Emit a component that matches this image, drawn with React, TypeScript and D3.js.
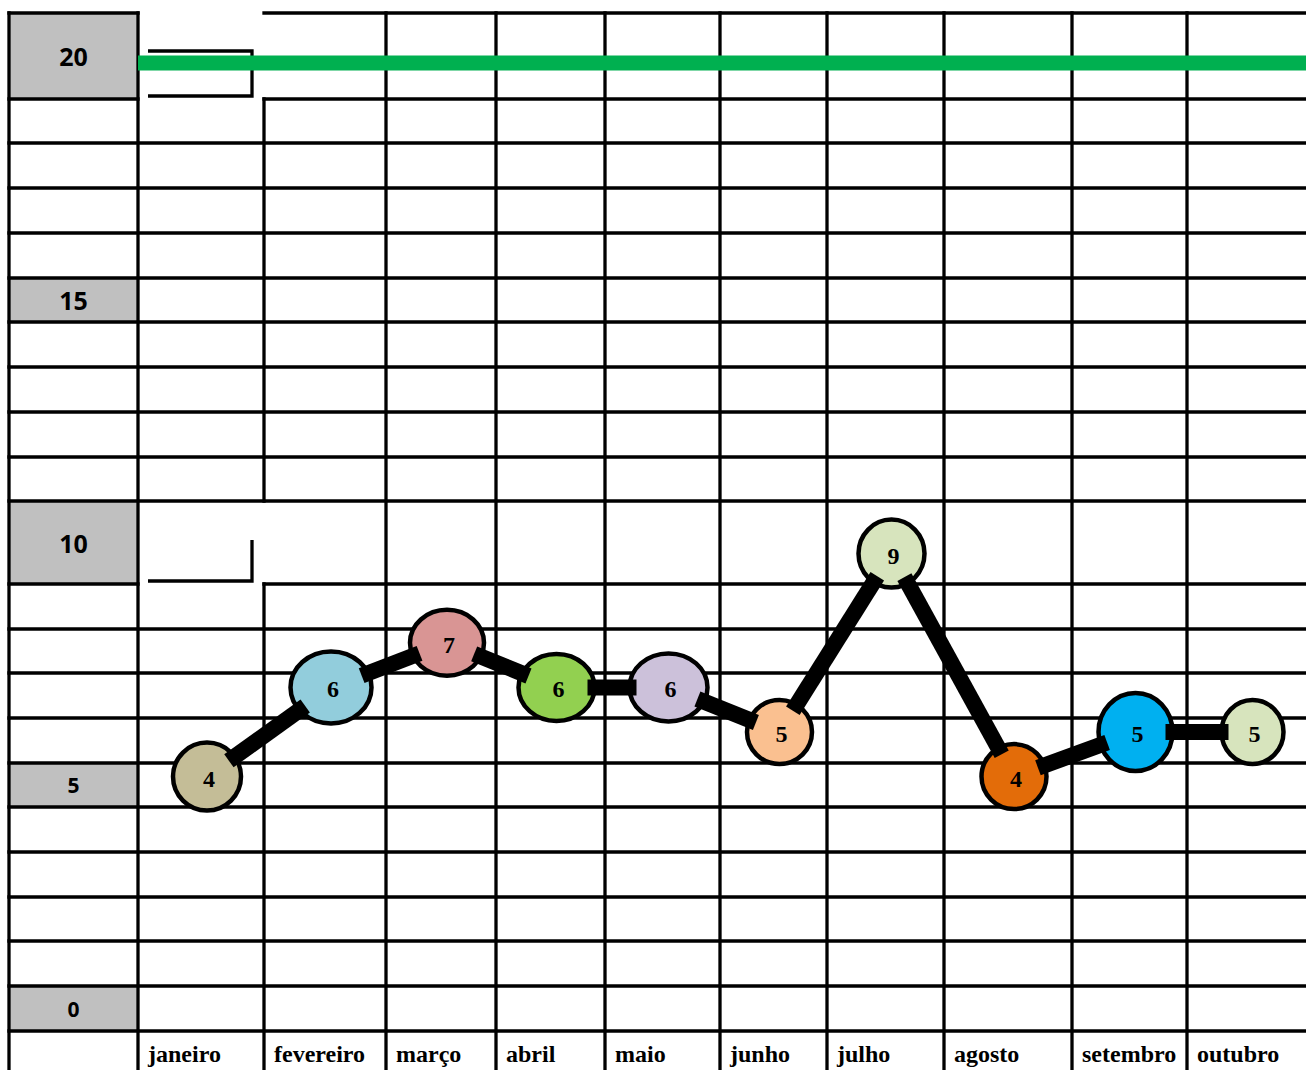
import React from 'react';
import * as d3 from 'd3';

// Monthly values and labels
const months = ['janeiro', 'fevereiro', 'março', 'abril', 'maio', 'junho', 'julho', 'agosto', 'setembro', 'outubro'];
const values = [4, 6, 7, 6, 6, 5, 9, 4, 5, 5];
const yTickLabels = ['20', '15', '10', '5', '0'];
const targetValue = 20;

// Marker styling per month
const markerColors = ['#c4bd97', '#92cddc', '#d99594', '#92d050', '#ccc1da', '#fac090', '#d7e4bd', '#e36c09', '#00b0f0', '#d7e4bd'];
const markerRx = [34, 40.5, 37, 38, 39, 32.5, 33, 32.5, 37, 31];
const markerRy = [34, 36, 33, 33.5, 34, 32, 34, 32.5, 39, 32];

// Spreadsheet grid layout
const colEdges = [9, 138, 264, 386, 496, 605, 720, 827, 944, 1072, 1187, 1306];
const rowEdges = [13, 99, 143, 188, 233, 278, 322, 367, 412, 457, 501, 584, 629, 673, 718, 763, 807, 852, 897, 941, 986, 1031, 1070];
const W = 1306;
const H = 1070;

export default function App() {
  const y = d3.scaleLinear().domain([0, 20]).range([955, 63]);
  const xOf = (i: number) => (colEdges[i + 1] + colEdges[i + 2]) / 2 + 6;

  const pts = values.map((v, i) => ({ x: xOf(i), y: y(v), v, i }));

  // horizontal grid lines, with gaps where cells are merged
  const hLines: [number, number, number][] = [];
  rowEdges.slice(0, -1).forEach((ry, ri) => {
    const merged = ri === 0 || ri === 1 || ri === 11;
    if (merged) {
      hLines.push([colEdges[0], colEdges[1], ry]);
      hLines.push([colEdges[2], W, ry]);
    } else {
      hLines.push([colEdges[0], W, ry]);
    }
  });
  // vertical grid lines
  const vLines: [number, number, number][] = [];
  colEdges.slice(0, -1).forEach((cx, ci) => {
    if (ci === 2) {
      vLines.push([cx, rowEdges[1], rowEdges[10]]);
      vLines.push([cx, rowEdges[11], H]);
    } else {
      vLines.push([cx, rowEdges[0], H]);
    }
  });

  // connecting segments trimmed to end just inside each marker
  const radiusAlong = (i: number, ux: number, uy: number) =>
    1 / Math.sqrt((ux / markerRx[i]) ** 2 + (uy / markerRy[i]) ** 2);
  const segs = pts.slice(0, -1).map((a, k) => {
    const b = pts[k + 1];
    const dx = b.x - a.x;
    const dy = b.y - a.y;
    const len = Math.hypot(dx, dy);
    const ux = dx / len;
    const uy = dy / len;
    const ta = radiusAlong(a.i, ux, uy) - 7;
    const tb = radiusAlong(b.i, ux, uy) - 7;
    return [
      [a.x + ux * ta, a.y + uy * ta],
      [b.x - ux * tb, b.y - uy * tb],
    ] as [number, number][];
  });
  const lineGen = d3.line();

  return (
    <svg width={W} height={H} style={{ position: 'absolute', left: 0, top: 0, background: '#fff' }}>
      {/* grey axis cells */}
      {yTickLabels.map((t, k) => {
        const r = k * 5;
        return (
          <rect key={'g' + t} x={colEdges[0]} y={rowEdges[r]} width={colEdges[1] - colEdges[0]}
            height={rowEdges[r + 1] - rowEdges[r]} fill="#c0c0c0" />
        );
      })}
      {hLines.map(([x1, x2, yy], k) => (
        <line key={'h' + k} x1={x1} x2={x2} y1={yy} y2={yy} stroke="#000" strokeWidth={3.3} strokeLinecap="square" />
      ))}
      {vLines.map(([xx, y1, y2], k) => (
        <line key={'v' + k} x1={xx} x2={xx} y1={y1} y2={y2} stroke="#000" strokeWidth={3.3} strokeLinecap="square" />
      ))}
      {/* leftover legend frames */}
      <path d="M148,51H252V96H148" fill="none" stroke="#000" strokeWidth={3.3} />
      <path d="M252,540V581H148" fill="none" stroke="#000" strokeWidth={3.3} />
      {/* axis labels */}
      {yTickLabels.map((t, k) => {
        const r = k * 5;
        const big = t.length > 1;
        return (
          <text key={'t' + t} x={(colEdges[0] + colEdges[1]) / 2} y={(rowEdges[r] + rowEdges[r + 1]) / 2}
            textAnchor="middle" dominantBaseline="central" fontFamily="'Open Sans', sans-serif"
            fontWeight={700} fontSize={big ? 25 : 21} fill="#000">{t}</text>
        );
      })}
      {months.map((m, i) => (
        <text key={'m' + m} x={colEdges[i + 1] + 10} y={1062} fontFamily="'Liberation Serif', serif"
          fontWeight={700} fontSize={24} fill="#000">{m}</text>
      ))}
      {/* target line */}
      <line x1={colEdges[1]} x2={W} y1={y(targetValue)} y2={y(targetValue)} stroke="#00b050" strokeWidth={15} />
      {/* markers */}
      {pts.map((p) => (
        <ellipse key={'e' + p.i} cx={p.x} cy={p.y} rx={markerRx[p.i]} ry={markerRy[p.i]}
          fill={markerColors[p.i]} stroke="#000" strokeWidth={4.5} />
      ))}
      {segs.map((s, k) => (
        <path key={'s' + k} d={lineGen(s) || ''} stroke="#000" strokeWidth={16} fill="none" strokeLinecap="butt" />
      ))}
      {pts.map((p) => (
        <text key={'l' + p.i} x={p.x + 2} y={p.y + 2} textAnchor="middle" dominantBaseline="central"
          fontFamily="'Liberation Serif', serif" fontWeight={700} fontSize={24} fill="#000">{p.v}</text>
      ))}
    </svg>
  );
}
